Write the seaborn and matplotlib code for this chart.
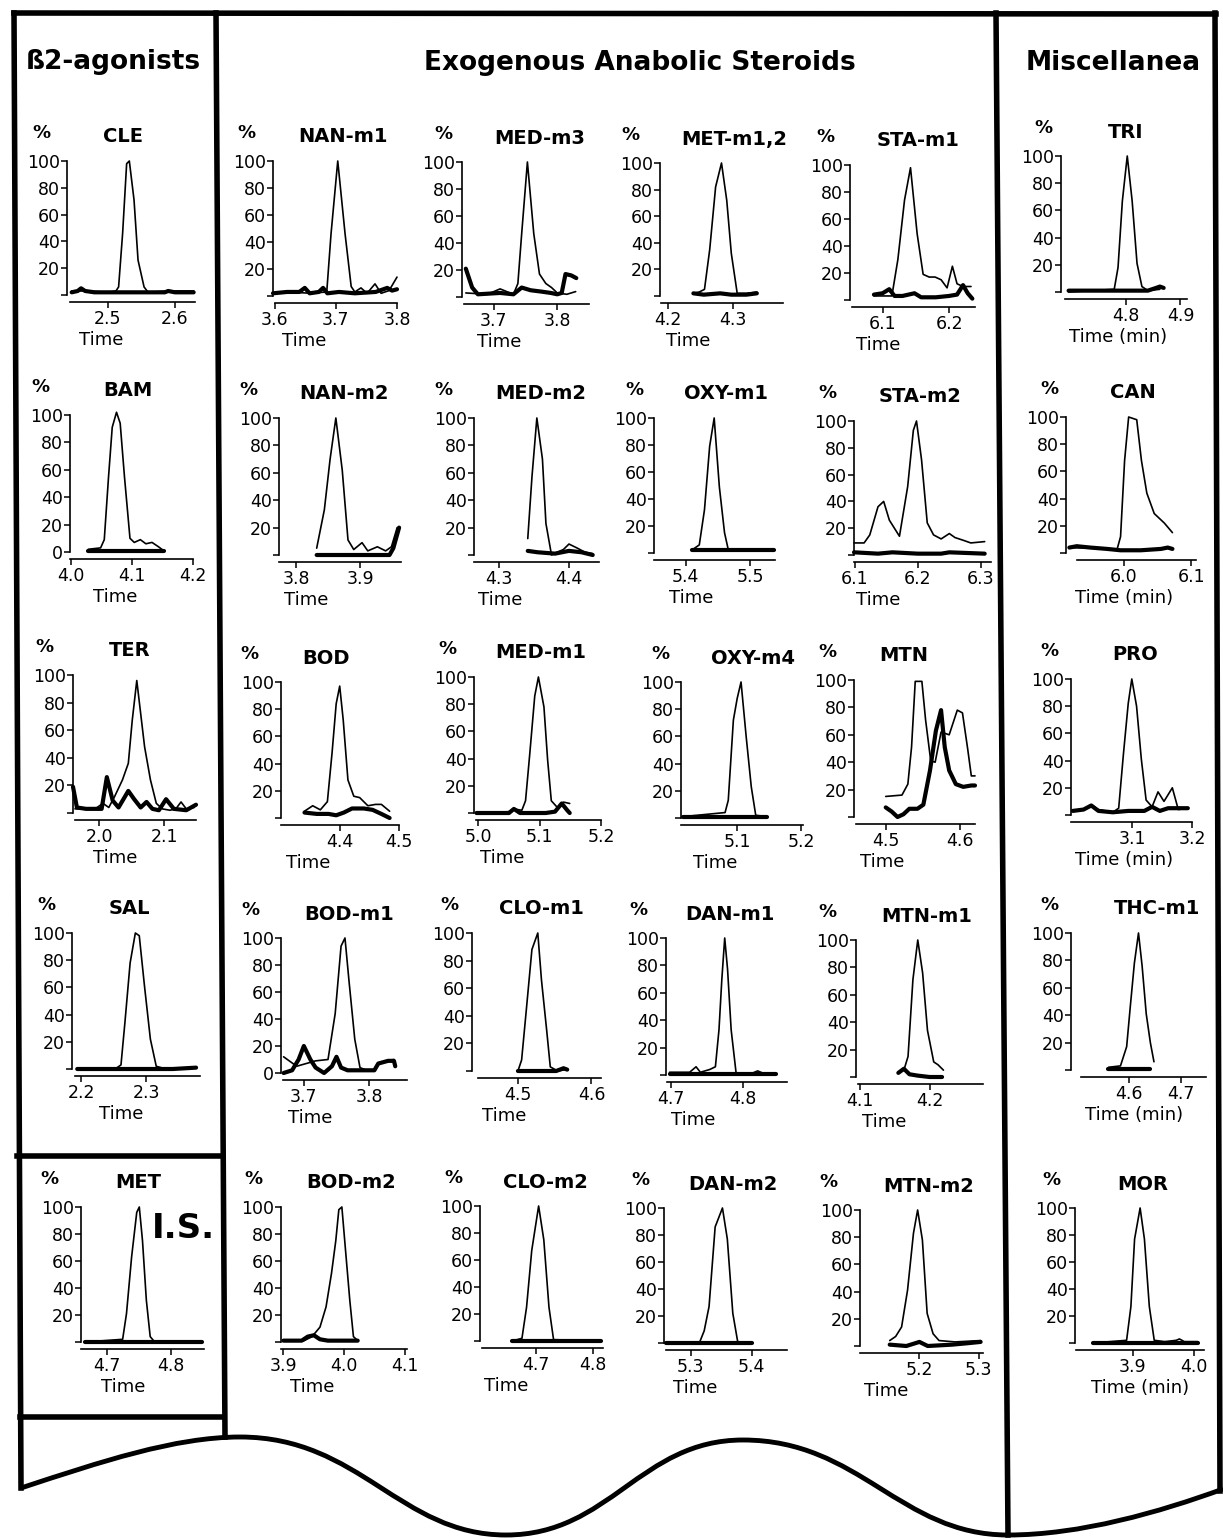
import matplotlib.pyplot as plt
import pandas as pd
import seaborn as sns
from matplotlib.lines import Line2D
from matplotlib.path import Path
from matplotlib.patches import PathPatch

# ---- chromatogram traces: (time in min, relative abundance %) ----
# "SAMPLE" = thin trace, "BLANK" = thick trace
CLE_SAMPLE = [(2.446, 3), (2.47, 3), (2.5, 2), (2.512, 3), (2.516, 6), (2.522, 46), (2.528, 98), (2.532, 100),
              (2.539, 71), (2.545, 26), (2.554, 6), (2.56, 2), (2.59, 3), (2.628, 3)]
CLE_BLANK = [(2.446, 2), (2.455, 3), (2.46, 5), (2.466, 3), (2.48, 2), (2.52, 2), (2.55, 2), (2.585, 2),
             (2.59, 3), (2.6, 2), (2.628, 2)]

NAN_M1_SAMPLE = [(3.597, 2), (3.62, 3), (3.66, 2), (3.685, 3), (3.692, 46), (3.703, 100), (3.715, 46), (3.725, 7),
                 (3.731, 3), (3.741, 6), (3.751, 2), (3.764, 9), (3.774, 2), (3.787, 4), (3.8, 14)]
NAN_M1_BLANK = [(3.597, 2), (3.62, 3), (3.64, 3), (3.649, 6), (3.657, 2), (3.672, 3), (3.679, 6), (3.686, 2),
                (3.705, 3), (3.731, 2), (3.765, 3), (3.784, 6), (3.792, 4), (3.8, 5)]

MED_M3_SAMPLE = [(3.656, 3), (3.69, 2), (3.71, 6), (3.731, 2), (3.738, 10), (3.744, 47), (3.753, 100), (3.763, 47),
                 (3.772, 17), (3.782, 10), (3.791, 7), (3.8, 3), (3.815, 2), (3.829, 4)]
MED_M3_BLANK = [(3.656, 21), (3.666, 7), (3.675, 2), (3.71, 3), (3.731, 2), (3.744, 7), (3.758, 5), (3.775, 4),
                (3.79, 3), (3.8, 2), (3.807, 3), (3.813, 17), (3.822, 16), (3.83, 14)]

MET_M12_SAMPLE = [(4.239, 2), (4.248, 3), (4.256, 5), (4.264, 35), (4.273, 82), (4.282, 100), (4.29, 72),
                  (4.297, 32), (4.306, 2), (4.32, 2), (4.336, 3)]
MET_M12_BLANK = [(4.239, 2), (4.255, 1), (4.28, 2), (4.297, 1), (4.32, 1), (4.336, 2)]

STA_M1_SAMPLE = [(6.087, 3), (6.1, 3), (6.114, 3), (6.123, 30), (6.133, 74), (6.142, 98), (6.152, 49), (6.161, 19),
                 (6.17, 17), (6.179, 17), (6.188, 15), (6.197, 9), (6.205, 25), (6.212, 12), (6.221, 10), (6.233, 10)]
STA_M1_BLANK = [(6.087, 4), (6.1, 5), (6.11, 8), (6.118, 3), (6.13, 3), (6.148, 5), (6.158, 2), (6.18, 2),
                (6.2, 3), (6.212, 4), (6.221, 11), (6.228, 5), (6.235, 1)]

TRI_SAMPLE = [(4.694, 0), (4.778, 2), (4.785, 18), (4.793, 67), (4.802, 100), (4.811, 67), (4.82, 21), (4.829, 4),
              (4.84, 1), (4.862, 2)]
TRI_BLANK = [(4.694, 1), (4.78, 1), (4.84, 1), (4.855, 3), (4.862, 4), (4.869, 3)]

BAM_SAMPLE = [(4.029, 2), (4.049, 3), (4.055, 9), (4.062, 55), (4.068, 91), (4.075, 102), (4.081, 94), (4.088, 55),
              (4.097, 10), (4.104, 7), (4.114, 9), (4.123, 6), (4.133, 7), (4.143, 4), (4.152, 1)]
BAM_BLANK = [(4.029, 1), (4.06, 1), (4.1, 1), (4.13, 1), (4.152, 1)]

NAN_M2_SAMPLE = [(3.832, 5), (3.844, 33), (3.853, 70), (3.862, 100), (3.872, 62), (3.881, 11), (3.89, 4),
                 (3.903, 9), (3.912, 3), (3.927, 6), (3.94, 3), (3.949, 6), (3.958, 20)]
NAN_M2_BLANK = [(3.832, 0), (3.9, 0), (3.946, 0), (3.952, 5), (3.961, 20)]

MED_M2_SAMPLE = [(4.341, 12), (4.347, 57), (4.354, 100), (4.362, 70), (4.367, 23), (4.375, 0), (4.383, 2),
                 (4.392, 4), (4.4, 8), (4.412, 5), (4.423, 2), (4.434, 1)]
MED_M2_BLANK = [(4.341, 3), (4.355, 2), (4.38, 1), (4.4, 3), (4.418, 2), (4.434, 0)]

OXY_M1_SAMPLE = [(5.409, 2), (5.421, 6), (5.429, 32), (5.437, 79), (5.444, 100), (5.452, 49), (5.46, 15),
                 (5.466, 2), (5.5, 2), (5.537, 2)]
OXY_M1_BLANK = [(5.409, 2), (5.45, 2), (5.5, 2), (5.537, 2)]

STA_M2_SAMPLE = [(6.099, 9), (6.115, 9), (6.124, 15), (6.137, 36), (6.146, 40), (6.155, 26), (6.171, 14),
                 (6.184, 51), (6.193, 93), (6.198, 100), (6.206, 71), (6.215, 24), (6.225, 15), (6.237, 12),
                 (6.25, 16), (6.259, 13), (6.272, 11), (6.284, 9), (6.306, 10)]
STA_M2_BLANK = [(6.099, 2), (6.137, 1), (6.16, 2), (6.2, 1), (6.237, 1), (6.25, 2), (6.306, 1)]

CAN_SAMPLE = [(5.919, 4), (5.99, 3), (5.995, 12), (6.001, 68), (6.007, 100), (6.019, 98), (6.026, 68),
              (6.034, 44), (6.045, 29), (6.06, 22), (6.072, 15)]
CAN_BLANK = [(5.919, 4), (5.93, 5), (5.95, 4), (5.975, 3), (5.995, 2), (6.025, 2), (6.055, 3), (6.065, 4),
             (6.072, 3)]

TER_SAMPLE = [(1.963, 3), (1.972, 3), (1.994, 3), (2.006, 7), (2.015, 4), (2.024, 12), (2.036, 24), (2.045, 36),
              (2.051, 67), (2.058, 96), (2.064, 72), (2.07, 48), (2.079, 24), (2.088, 7), (2.097, 3), (2.109, 2),
              (2.118, 3), (2.126, 8), (2.134, 3), (2.146, 4)]
TER_BLANK = [(1.96, 19), (1.966, 4), (1.98, 3), (1.995, 3), (2.004, 3), (2.012, 26), (2.021, 9), (2.03, 4),
             (2.045, 16), (2.054, 10), (2.064, 4), (2.073, 8), (2.082, 3), (2.092, 2), (2.103, 10), (2.115, 3),
             (2.134, 2), (2.149, 6)]

BOD_SAMPLE = [(4.339, 5), (4.353, 9), (4.366, 6), (4.378, 12), (4.386, 48), (4.393, 84), (4.399, 97), (4.405, 72),
              (4.413, 28), (4.423, 16), (4.433, 15), (4.447, 9), (4.46, 10), (4.47, 10), (4.484, 5)]
BOD_BLANK = [(4.339, 4), (4.36, 3), (4.38, 3), (4.393, 2), (4.406, 4), (4.42, 7), (4.44, 7), (4.455, 6),
             (4.47, 3), (4.484, 0)]

MED_M1_SAMPLE = [(4.997, 0), (5.052, 1), (5.058, 3), (5.071, 2), (5.077, 9), (5.084, 44), (5.092, 86), (5.098, 100),
                 (5.107, 78), (5.113, 39), (5.119, 9), (5.129, 4), (5.139, 8), (5.149, 7)]
MED_M1_BLANK = [(4.997, 0), (5.05, 0), (5.058, 3), (5.068, 0), (5.11, 0), (5.125, 1), (5.136, 7), (5.145, 2),
                (5.149, 0)]

OXY_M4_SAMPLE = [(5.015, 1), (5.081, 4), (5.086, 13), (5.094, 72), (5.1, 88), (5.106, 100), (5.114, 60),
                 (5.122, 23), (5.129, 2), (5.147, 1)]
OXY_M4_BLANK = [(5.015, 1), (5.08, 1), (5.147, 1)]

MTN_SAMPLE = [(4.5, 15), (4.522, 16), (4.53, 24), (4.535, 51), (4.54, 99), (4.549, 99), (4.554, 71), (4.561, 41),
              (4.567, 40), (4.575, 62), (4.586, 60), (4.597, 78), (4.604, 76), (4.611, 50), (4.616, 30), (4.621, 30)]
MTN_BLANK = [(4.5, 7), (4.508, 4), (4.516, 0), (4.524, 2), (4.532, 6), (4.543, 6), (4.551, 9), (4.56, 34),
             (4.568, 63), (4.575, 78), (4.58, 51), (4.586, 34), (4.595, 24), (4.605, 22), (4.616, 23), (4.621, 23)]

PRO_SAMPLE = [(3.0, 3), (3.02, 4), (3.033, 7), (3.043, 4), (3.067, 2), (3.077, 5), (3.085, 45), (3.093, 82),
              (3.099, 100), (3.107, 80), (3.115, 41), (3.123, 11), (3.133, 6), (3.143, 17), (3.153, 10),
              (3.167, 20), (3.177, 4), (3.193, 5)]
PRO_BLANK = [(3.0, 3), (3.018, 4), (3.031, 7), (3.043, 3), (3.067, 2), (3.093, 3), (3.12, 3), (3.133, 6),
             (3.146, 3), (3.16, 5), (3.177, 5), (3.193, 5)]

SAL_SAMPLE = [(2.194, 0), (2.252, 0), (2.261, 3), (2.267, 34), (2.275, 78), (2.283, 100), (2.289, 98), (2.297, 61),
              (2.306, 22), (2.315, 2), (2.33, 0), (2.376, 1)]
SAL_BLANK = [(2.194, 0), (2.26, 0), (2.34, 0), (2.376, 1)]

BOD_M1_SAMPLE = [(3.669, 12), (3.689, 5), (3.718, 9), (3.737, 10), (3.748, 44), (3.757, 94), (3.763, 100),
                 (3.769, 69), (3.778, 25), (3.786, 4), (3.796, 2), (3.808, 2), (3.814, 7), (3.829, 9), (3.838, 10)]
BOD_M1_BLANK = [(3.669, 0), (3.682, 2), (3.692, 10), (3.7, 20), (3.71, 10), (3.718, 4), (3.731, 0), (3.743, 5),
                (3.75, 12), (3.757, 4), (3.767, 2), (3.791, 2), (3.808, 2), (3.814, 7), (3.829, 9), (3.838, 9),
                (3.84, 5)]

CLO_M1_SAMPLE = [(4.5, 0), (4.505, 8), (4.511, 42), (4.519, 88), (4.527, 100), (4.532, 66), (4.539, 30),
                 (4.544, 3), (4.554, 0), (4.565, 1)]
CLO_M1_BLANK = [(4.5, 0), (4.552, 0), (4.562, 2), (4.567, 1)]

DAN_M1_SAMPLE = [(4.698, 2), (4.726, 2), (4.735, 6), (4.741, 2), (4.754, 4), (4.762, 6), (4.767, 33), (4.771, 70),
                 (4.775, 100), (4.779, 77), (4.784, 33), (4.791, 1), (4.812, 1), (4.821, 3), (4.83, 1), (4.846, 1)]
DAN_M1_BLANK = [(4.698, 1), (4.77, 1), (4.846, 1)]

MTN_M1_SAMPLE = [(4.155, 3), (4.163, 5), (4.169, 15), (4.176, 71), (4.183, 100), (4.19, 76), (4.197, 34),
                 (4.206, 11), (4.212, 9), (4.22, 5)]
MTN_M1_BLANK = [(4.155, 3), (4.163, 6), (4.171, 2), (4.183, 1), (4.2, 0), (4.218, 0)]

THC_M1_SAMPLE = [(4.56, 2), (4.583, 3), (4.595, 17), (4.602, 46), (4.61, 78), (4.618, 100), (4.625, 76),
                 (4.633, 41), (4.641, 20), (4.648, 6)]
THC_M1_BLANK = [(4.558, 1), (4.6, 1), (4.641, 1)]

MET_SAMPLE = [(4.666, 0), (4.724, 2), (4.73, 21), (4.738, 63), (4.746, 96), (4.75, 100), (4.755, 75), (4.761, 31),
              (4.767, 4), (4.774, 0), (4.848, 0)]
MET_BLANK = [(4.666, 0), (4.75, 0), (4.848, 0)]

BOD_M2_SAMPLE = [(3.9, 1), (3.934, 1), (3.947, 4), (3.96, 11), (3.97, 26), (3.979, 51), (3.986, 75), (3.991, 98),
                 (3.996, 100), (4.002, 68), (4.009, 31), (4.015, 4), (4.022, 1)]
BOD_M2_BLANK = [(3.9, 1), (3.93, 1), (3.94, 4), (3.95, 5), (3.96, 2), (3.973, 1), (4.022, 1)]

CLO_M2_SAMPLE = [(4.659, 0), (4.676, 2), (4.684, 25), (4.693, 67), (4.705, 100), (4.714, 75), (4.723, 25),
                 (4.731, 1), (4.814, 0)]
CLO_M2_BLANK = [(4.659, 0), (4.74, 0), (4.814, 0)]

DAN_M2_SAMPLE = [(5.26, 0), (5.314, 0), (5.322, 9), (5.33, 27), (5.34, 86), (5.352, 100), (5.36, 77), (5.369, 22),
                 (5.377, 1), (5.4, 0)]
DAN_M2_BLANK = [(5.26, 0), (5.33, 0), (5.4, 0)]

MTN_M2_SAMPLE = [(5.15, 4), (5.16, 7), (5.17, 14), (5.18, 41), (5.19, 83), (5.197, 100), (5.205, 78), (5.213, 24),
                 (5.223, 9), (5.233, 4), (5.26, 3), (5.303, 4)]
MTN_M2_BLANK = [(5.15, 1), (5.178, 0), (5.2, 3), (5.214, 0), (5.255, 1), (5.28, 2), (5.303, 3)]

MOR_SAMPLE = [(3.835, 0), (3.89, 2), (3.897, 27), (3.903, 77), (3.912, 100), (3.919, 77), (3.927, 27), (3.935, 2),
              (3.952, 1), (3.971, 2), (3.976, 3), (3.984, 1), (4.006, 1)]
MOR_BLANK = [(3.835, 0), (3.92, 0), (4.006, 0)]

# ---- panels, axis ranges and ticks ----
PANEL_NAMES = [
    "CLE", "NAN-m1", "MED-m3", "MET-m1,2", "STA-m1", "TRI",
    "BAM", "NAN-m2", "MED-m2", "OXY-m1", "STA-m2", "CAN",
    "TER", "BOD", "MED-m1", "OXY-m4", "MTN", "PRO",
    "SAL", "BOD-m1", "CLO-m1", "DAN-m1", "MTN-m1", "THC-m1",
    "MET", "BOD-m2", "CLO-m2", "DAN-m2", "MTN-m2", "MOR",
]
X_LIMITS = [
    (2.439, 2.63), (3.597, 3.8), (3.65, 3.85), (4.188, 4.376), (6.051, 6.239), (4.68, 4.912),
    (3.999, 4.2), (3.773, 3.964), (4.264, 4.443), (5.351, 5.538), (6.099, 6.316), (5.914, 6.107),
    (1.96, 2.149), (4.299, 4.5), (4.993, 5.2), (5.012, 5.203), (4.457, 4.621), (2.997, 3.2),
    (2.186, 2.382), (3.665, 3.858), (4.4375, 4.613), (4.693, 4.862), (4.094, 4.277), (4.487, 4.749),
    (4.659, 4.851), (3.896, 4.103), (4.603, 4.817), (5.256, 5.458), (5.1, 5.307), (3.806, 4.016),
]
X_TICKS = [
    [2.5, 2.6], [3.6, 3.7, 3.8], [3.7, 3.8], [4.2, 4.3], [6.1, 6.2], [4.8, 4.9],
    [4.0, 4.1, 4.2], [3.8, 3.9], [4.3, 4.4], [5.4, 5.5], [6.1, 6.2, 6.3], [6.0, 6.1],
    [2.0, 2.1], [4.4, 4.5], [5.0, 5.1, 5.2], [5.1, 5.2], [4.5, 4.6], [3.1, 3.2],
    [2.2, 2.3], [3.7, 3.8], [4.5, 4.6], [4.7, 4.8], [4.1, 4.2], [4.6, 4.7],
    [4.7, 4.8], [3.9, 4.0, 4.1], [4.7, 4.8], [5.3, 5.4], [5.2, 5.3], [3.9, 4.0],
]
Y_TICKS = [0, 20, 40, 60, 80, 100]
ZERO_LABELLED = ["BAM", "BOD-m1"]
MISC_PANELS = ["TRI", "CAN", "PRO", "THC-m1", "MOR"]

TRACES = {
    "CLE": (CLE_SAMPLE, CLE_BLANK), "NAN-m1": (NAN_M1_SAMPLE, NAN_M1_BLANK),
    "MED-m3": (MED_M3_SAMPLE, MED_M3_BLANK), "MET-m1,2": (MET_M12_SAMPLE, MET_M12_BLANK),
    "STA-m1": (STA_M1_SAMPLE, STA_M1_BLANK), "TRI": (TRI_SAMPLE, TRI_BLANK),
    "BAM": (BAM_SAMPLE, BAM_BLANK), "NAN-m2": (NAN_M2_SAMPLE, NAN_M2_BLANK),
    "MED-m2": (MED_M2_SAMPLE, MED_M2_BLANK), "OXY-m1": (OXY_M1_SAMPLE, OXY_M1_BLANK),
    "STA-m2": (STA_M2_SAMPLE, STA_M2_BLANK), "CAN": (CAN_SAMPLE, CAN_BLANK),
    "TER": (TER_SAMPLE, TER_BLANK), "BOD": (BOD_SAMPLE, BOD_BLANK),
    "MED-m1": (MED_M1_SAMPLE, MED_M1_BLANK), "OXY-m4": (OXY_M4_SAMPLE, OXY_M4_BLANK),
    "MTN": (MTN_SAMPLE, MTN_BLANK), "PRO": (PRO_SAMPLE, PRO_BLANK),
    "SAL": (SAL_SAMPLE, SAL_BLANK), "BOD-m1": (BOD_M1_SAMPLE, BOD_M1_BLANK),
    "CLO-m1": (CLO_M1_SAMPLE, CLO_M1_BLANK), "DAN-m1": (DAN_M1_SAMPLE, DAN_M1_BLANK),
    "MTN-m1": (MTN_M1_SAMPLE, MTN_M1_BLANK), "THC-m1": (THC_M1_SAMPLE, THC_M1_BLANK),
    "MET": (MET_SAMPLE, MET_BLANK), "BOD-m2": (BOD_M2_SAMPLE, BOD_M2_BLANK),
    "CLO-m2": (CLO_M2_SAMPLE, CLO_M2_BLANK), "DAN-m2": (DAN_M2_SAMPLE, DAN_M2_BLANK),
    "MTN-m2": (MTN_M2_SAMPLE, MTN_M2_BLANK), "MOR": (MOR_SAMPLE, MOR_BLANK),
}

# ---- layout in pixels: y-axis x, x-axis start, x-axis end, 100 level, 0 level,
#      title centre x, "%" x, "Time" centre x ----
LAYOUT = {
    "CLE": (67, 70, 195, 161, 295, 123, 41, 101),
    "NAN-m1": (273, 275, 397, 161, 296, 343, 246, 304),
    "MED-m3": (462, 464, 589, 162, 297, 540, 443, 499),
    "MET-m1,2": (660, 661, 783, 163, 296, 734, 630, 688),
    "STA-m1": (850, 852, 975, 165, 300, 918, 825, 878),
    "TRI": (1061, 1065, 1187, 156, 292, 1126, 1043, 1118),
    "BAM": (70, 70, 193, 415, 552, 128, 40, 115),
    "NAN-m2": (279, 279, 401, 418, 555, 344, 248, 306),
    "MED-m2": (474, 474, 599, 418, 555, 541, 443, 500),
    "OXY-m1": (654, 654, 775, 418, 553, 726, 634, 691),
    "STA-m2": (854, 854, 991, 421, 555, 920, 827, 878),
    "CAN": (1066, 1077, 1196, 417, 553, 1133, 1049, 1124),
    "TER": (73, 75, 196, 675, 813, 130, 44, 115),
    "BOD": (281, 281, 399, 682, 818, 326, 249, 308),
    "MED-m1": (474, 476, 601, 677, 813, 541, 447, 502),
    "OXY-m4": (681, 681, 803, 682, 818, 753, 660, 715),
    "MTN": (854, 856, 975, 680, 817, 904, 827, 882),
    "PRO": (1071, 1071, 1192, 679, 815, 1135, 1049, 1124),
    "SAL": (72, 75, 200, 933, 1069, 129, 46, 121),
    "BOD-m1": (281, 283, 407, 938, 1073, 349, 250, 310),
    "CLO-m1": (472, 478, 601, 933, 1071, 541, 449, 504),
    "DAN-m1": (666, 667, 787, 938, 1075, 730, 638, 693),
    "MTN-m1": (856, 858, 983, 940, 1077, 927, 827, 884),
    "THC-m1": (1071, 1081, 1206, 933, 1070, 1157, 1049, 1134),
    "MET": (81, 81, 204, 1207, 1342, 138, 49, 123),
    "BOD-m2": (281, 281, 407, 1207, 1342, 351, 253, 312),
    "CLO-m2": (480, 482, 603, 1206, 1341, 545, 453, 506),
    "DAN-m2": (664, 666, 787, 1208, 1343, 733, 640, 695),
    "MTN-m2": (860, 860, 983, 1210, 1346, 929, 828, 886),
    "MOR": (1075, 1076, 1204, 1208, 1343, 1143, 1051, 1140),
}

W, H = 1223, 1540


def fx(x):
    return x / W


def fy(y):
    return 1 - y / H


def to_frame(points):
    return pd.DataFrame(points, columns=["time", "pct"])


sns.set_style("ticks")
plt.rcParams["font.family"] = "DejaVu Sans"
for key in ("text.color", "axes.labelcolor", "axes.edgecolor", "xtick.color", "ytick.color"):
    plt.rcParams[key] = "black"

fig = plt.figure(figsize=(W / 100, H / 100), dpi=100)

for name, xlim, ticks in zip(PANEL_NAMES, X_LIMITS, X_TICKS):
    yax, xs, xe, top, zero, tx, pctx, timex = LAYOUT[name]
    ax = fig.add_axes([fx(yax), fy(zero), (xe - yax) / W, (zero - top) / H])
    ax.patch.set_alpha(0)

    sample, blank = TRACES[name]
    sns.lineplot(data=to_frame(blank), x="time", y="pct", ax=ax, color="black",
                 linewidth=3.0, sort=False, estimator=None, clip_on=False)
    sns.lineplot(data=to_frame(sample), x="time", y="pct", ax=ax, color="black",
                 linewidth=1.2, sort=False, estimator=None, clip_on=False)

    ax.set_xlim(*xlim)
    ax.set_ylim(0, 100)
    ax.set_xlabel("")
    ax.set_ylabel("")

    for side in ("top", "right"):
        ax.spines[side].set_visible(False)
    ax.spines["left"].set_bounds(0, 100)
    ax.spines["bottom"].set_position(("outward", 5))
    x_start = xlim[0] + (xs - yax) / (xe - yax) * (xlim[1] - xlim[0])
    ax.spines["bottom"].set_bounds(x_start, xlim[1])
    for side in ("left", "bottom"):
        ax.spines[side].set_linewidth(1.2)
        ax.spines[side].set_color("black")

    ax.set_yticks(Y_TICKS)
    ax.set_yticklabels(["0" if name in ZERO_LABELLED else ""] + [str(v) for v in Y_TICKS[1:]])
    ax.set_xticks(ticks)
    ax.set_xticklabels([f"{t:.1f}" for t in ticks])
    ax.tick_params(axis="y", length=4, width=1.1, pad=1, labelsize=12.5, colors="black")
    ax.tick_params(axis="x", length=4, width=1.1, pad=1.5, labelsize=12.5, colors="black")

    fig.text(fx(tx), fy(top - 24), name, ha="center", va="center", fontsize=14, fontweight="bold")
    fig.text(fx(pctx), fy(top - 28), "%", ha="center", va="center", fontsize=13, fontweight="bold")
    time_label = "Time (min)" if name in MISC_PANELS else "Time"
    fig.text(fx(timex), fy(zero + 45), time_label, ha="center", va="center", fontsize=13)

# group headers
fig.text(fx(113), fy(62), "ß2-agonists", ha="center", va="center", fontsize=19, fontweight="bold")
fig.text(fx(640), fy(63), "Exogenous Anabolic Steroids", ha="center", va="center", fontsize=19, fontweight="bold")
fig.text(fx(1113), fy(63), "Miscellanea", ha="center", va="center", fontsize=19, fontweight="bold")
fig.text(fx(183), fy(1228), "I.S.", ha="center", va="center", fontsize=24.5, fontweight="bold")

# frame
frame_lines = [
    ((14, 13), (1216, 14)),
    ((14, 13), (21, 1488)),
    ((216, 13), (225, 1437)),
    ((996, 13), (1008, 1535)),
    ((1215, 13), (1220, 1491)),
    ((17, 1156), (221, 1156)),
    ((20, 1417), (224, 1417)),
]
for (x0, y0), (x1, y1) in frame_lines:
    fig.add_artist(Line2D([fx(x0), fx(x1)], [fy(y0), fy(y1)], transform=fig.transFigure,
                          color="black", linewidth=4, solid_capstyle="projecting"))

wave_px = [
    (21, 1488),
    (100, 1462), (175, 1437), (240, 1437),
    (360, 1437), (400, 1535), (506, 1535),
    (610, 1535), (640, 1440), (743, 1440),
    (860, 1440), (900, 1535), (1008, 1535),
    (1080, 1535), (1160, 1512), (1223, 1489),
]
codes = [Path.MOVETO] + [Path.CURVE4] * 15
wave = Path([(fx(x), fy(y)) for x, y in wave_px], codes)
fig.add_artist(PathPatch(wave, transform=fig.transFigure, facecolor="none",
                         edgecolor="black", linewidth=3.5))

fig.savefig("out.png", dpi=100, facecolor="white")
